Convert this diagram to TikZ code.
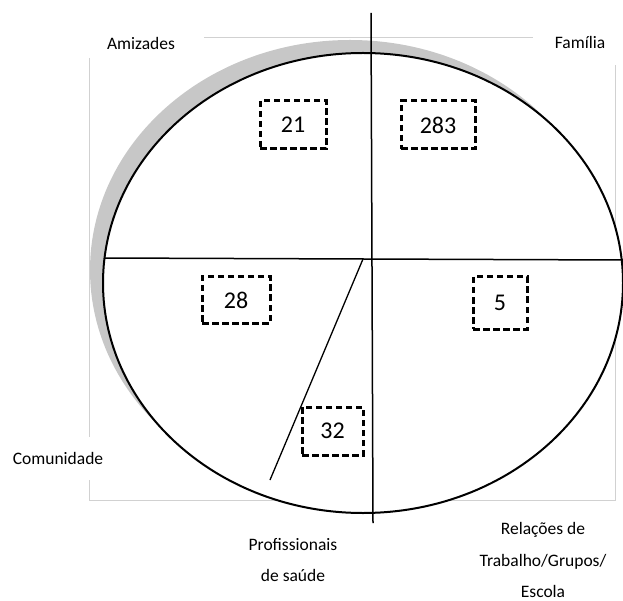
\documentclass[tikz,border=0pt]{standalone}
\usepackage{fontspec}
\setmainfont{Carlito}
\begin{document}
\begin{tikzpicture}[x=1pt,y=-1pt,
  numbox/.style={draw, line width=3pt, dash pattern=on 6.5pt off 3.5pt, inner sep=0pt,
    font=\fontsize{24}{26}\selectfont, text=black},
  lbl/.style={inner sep=0pt, align=center, font=\fontsize{17.5}{31.5}\selectfont},
  frame/.style={draw=black!18, line width=1pt},
  divider/.style={draw=black, line width=1.5pt}]
\useasboundingbox (0,0) rectangle (623,601);
% light frame behind the diagram
\draw[frame] (204,38) -- (533,38);
\draw[frame] (89,58) -- (89,437);
\draw[frame] (89,480) -- (89,500) -- (615,500) -- (615,65);
% shadow and circle
\fill[black!22] (350,270) ellipse [x radius=260, y radius=230];
\draw[fill=white, line width=2pt] (363,283) ellipse [x radius=260, y radius=230];
% dividing lines
\coordinate (vtop) at (371,13);
\coordinate (vbot) at (373,523);
\coordinate (hl) at (104,258);
\coordinate (hr) at (623,260);
\coordinate (dtop) at (363,259);
\coordinate (dbot) at (270,480);
\draw[divider] (vtop) -- (vbot);
\draw[divider] (hl) -- (hr);
\draw[line width=1.3pt] (dtop) -- (dbot);
% numbers
\node[numbox, minimum width=66pt, minimum height=48pt] (n21) at (293,125) {21};
\node[numbox, minimum width=74pt, minimum height=48pt] (n283) at (438,125) {283};
\node[numbox, minimum width=68pt, minimum height=46pt] (n28) at (236,300) {28};
\node[numbox, minimum width=54pt, minimum height=52pt] (n5) at (500,303) {5};
\node[numbox, minimum width=61pt, minimum height=48pt] (n32) at (332.5,431) {32};
% labels
\node[lbl] (amiz) at (141,43) {Amizades};
\node[lbl] (fam) at (580,42) {Família};
\node[lbl] (com) at (58,458) {Comunidade};
\node[lbl] (prof) at (293,560) {Profissionais\\de saúde};
\node[lbl] (rel) at (543,560) {Relações de\\Trabalho/Grupos/\\Escola};
\end{tikzpicture}
\end{document}
